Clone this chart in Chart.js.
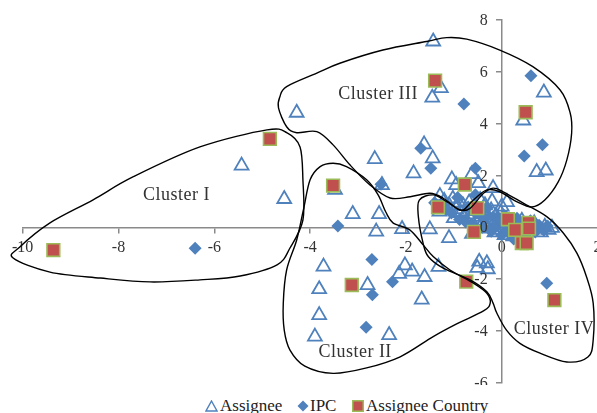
<!DOCTYPE html>
<html>
<head>
<meta charset="utf-8">
<script src="https://cdn.jsdelivr.net/npm/chart.js@4.4.1/dist/chart.umd.min.js"></script>
<style>
  html, body { margin: 0; padding: 0; background: #fff; overflow: hidden; }
  #wrap { position: relative; width: 597px; height: 413px; overflow: hidden; }
  #c { position: absolute; left: 0; top: 0; }
  #legend { position: absolute; left: 0; top: 385px; width: 597px; height: 28px; background: #fff;
            font-family: "Liberation Serif", "Times New Roman", serif; font-size: 17px; color: #222; }
  #legend .item { position: absolute; top: 11px; height: 20px; line-height: 20px; white-space: nowrap;
                  display: flex; align-items: center; }
  .mk { display: block; margin-right: 2px; flex: none; }
</style>
</head>
<body>
<div id="wrap">
  <canvas id="c" width="620" height="413"></canvas>
  <div id="legend"></div>
</div>
<script>
// series names and tick values
const seriesNames = ['Assignee', 'IPC', 'Assignee Country'];
const xTicks = [-10, -8, -6, -4, -2, 0, 2];
const yTicks = [-6, -4, -2, 0, 2, 4, 6, 8];

// Assignee (open triangles)
const assignee = [
  [-4.28, 4.42], [-5.43, 2.38], [-4.54, 1.09], [-3.48, 1.44], [-1.43, 7.17], [-1.27, 5.37],
  [-1.45, 5.00], [0.88, 5.20], [0.45, 4.12], [0.73, 2.13], [0.92, 2.19], [-2.65, 2.63],
  [-2.50, 1.63], [-1.84, 2.08], [-1.62, 3.20], [-1.44, 2.66], [-1.04, 1.85], [-0.95, 1.63],
  [-0.62, 2.05], [-0.18, 1.51], [-0.49, 1.70], [-1.29, 1.20], [-1.50, -0.08], [-2.08, -0.07],
  [-1.10, -0.42], [-3.11, 0.51], [-2.56, 0.51], [-2.62, -0.17], [0.11, 0.97], [-3.72, -1.52],
  [-2.02, -1.47], [-2.14, -1.80], [-1.87, -1.71], [-1.61, -1.92], [-1.32, -1.53], [-2.80, -2.23],
  [-3.81, -2.39], [-1.67, -2.79], [-3.81, -3.39], [-3.90, -4.22], [-2.35, -4.16], [-0.47, -1.33],
  [-0.31, -1.39], [-0.51, -1.57], [-0.29, -1.62],
  // dense group near the origin
  [-1.20, 1.02], [-1.10, 0.85], [-1.02, 1.10], [-0.95, 0.70], [-0.90, 0.95], [-0.85, 0.55],
  [-0.80, 0.82], [-0.78, 0.40], [-0.72, 0.62], [-0.68, 0.95], [-0.65, 0.30], [-0.60, 0.50],
  [-0.55, 0.78], [-0.52, 0.15], [-0.48, 0.40], [-0.45, 1.05], [-0.42, 0.62], [-0.38, 0.20],
  [-0.35, 0.85], [-0.32, 0.45], [-0.28, -0.05], [-0.25, 0.30], [-0.22, 0.65], [-0.18, 0.10],
  [-0.15, -0.20], [-0.12, 0.45], [-0.08, 0.25], [-0.05, -0.10], [-0.02, 0.55], [0.03, 0.05],
  [0.06, -0.30], [0.10, 0.30], [0.15, -0.05], [0.20, 0.20], [0.24, -0.35], [0.30, 0.08],
  [0.36, -0.15], [0.42, 0.25], [0.48, -0.28], [0.55, 0.05], [0.62, -0.12], [0.68, 0.15],
  [0.75, -0.05], [0.82, -0.20], [0.90, 0.02], [0.98, -0.10], [1.05, -0.02], [-1.30, 0.60],
  [-1.00, 0.35], [-0.62, -0.25], [0.00, 0.80], [-0.20, 1.00]
];

// IPC (filled diamonds)
const ipc = [
  [-6.40, -0.81], [-0.79, 4.76], [0.61, 5.85], [0.85, 3.18], [0.47, 2.75], [-2.52, 1.66],
  [-1.69, 3.05], [-1.48, 2.28], [-0.55, 2.28], [-3.42, 0.05], [-2.71, -1.24], [-2.28, -2.10],
  [-2.70, -2.61], [-2.83, -3.86], [0.94, -2.16],
  [-1.15, 0.70], [-1.05, 0.55], [-0.92, 1.15], [-0.88, 0.30], [-0.75, 0.20], [-0.70, 0.78],
  [-0.62, 0.10], [-0.50, 0.55], [-0.40, 0.00], [-0.36, 0.35], [-0.30, 0.75], [-0.22, -0.15],
  [-0.18, 0.40], [-0.10, 0.05], [-0.05, 0.30], [0.00, -0.30], [0.05, 0.45], [0.12, -0.18],
  [0.18, 0.10], [0.25, -0.45], [0.32, 0.35], [0.38, -0.05], [0.45, 0.12], [0.50, -0.35],
  [0.60, 0.25], [0.70, -0.18], [0.78, 0.08], [0.88, -0.12], [0.95, 0.05], [-1.40, 0.95],
  [-0.55, 1.25]
];

// Assignee Country (red squares)
const assigneeCountry = [
  [-9.36, -0.88], [-4.84, 3.41], [-3.52, 1.61], [-1.39, 5.66], [0.50, 4.44], [-0.77, 1.65],
  [-1.33, 0.77], [-0.51, 0.74], [-0.58, -0.18], [-3.13, -2.23], [-0.74, -2.10], [1.10, -2.81],
  [0.13, 0.31], [0.28, -0.10], [0.56, 0.17], [0.57, -0.05], [0.42, -0.61], [0.52, -0.61]
];

// cluster outlines (data coordinates, closed smooth curves)
const clusterI = [
  [-10.20, -1.19], [-10.06, -0.76], [-9.43, 0.17], [-8.53, 1.06], [-7.70, 1.94], [-6.30, 3.10],
  [-4.90, 3.76], [-4.48, 3.64], [-4.21, 3.10], [-4.15, 1.83], [-4.15, 0.28], [-4.42, -0.80],
  [-4.69, -1.45], [-5.46, -1.88], [-6.30, -2.03], [-7.34, -2.11], [-8.38, -1.96], [-9.43, -1.73]
];
const clusterII = [
  [-3.52, 2.47], [-3.24, 2.34], [-2.82, 1.83], [-2.58, 1.25], [-2.42, 0.59], [-2.27, 0.17],
  [-1.92, -0.10], [-1.64, -0.68], [-1.43, -1.13], [-1.08, -1.65], [-0.59, -2.16], [-0.31, -2.55],
  [-0.24, -2.93], [-0.38, -3.23], [-0.94, -3.73], [-1.43, -4.22], [-2.12, -5.00], [-2.82, -5.43],
  [-3.52, -5.64], [-4.11, -5.36], [-4.42, -4.74], [-4.54, -3.97], [-4.56, -2.93], [-4.49, -1.65],
  [-4.28, -0.49], [-4.14, 0.67], [-4.00, 1.83], [-3.79, 2.34]
];
const clusterIII = [
  [-4.66, 4.61], [-4.63, 5.04], [-4.49, 5.43], [-3.86, 5.95], [-3.38, 6.33], [-2.48, 6.84],
  [-1.57, 7.17], [-1.15, 7.32], [-0.73, 7.26], [-0.04, 6.84], [0.65, 6.20], [1.22, 5.30],
  [1.43, 4.41], [1.46, 3.63], [1.36, 2.60], [1.18, 1.75], [0.90, 1.05], [0.63, 0.78],
  [0.31, 0.99], [-0.04, 1.37], [-0.31, 1.44], [-0.59, 1.05], [-0.80, 0.67], [-0.94, 0.73],
  [-1.22, 1.12], [-1.50, 1.31], [-1.91, 1.18], [-2.33, 1.13], [-2.75, 1.63], [-3.17, 2.41],
  [-3.52, 3.18], [-3.86, 3.69], [-4.28, 3.65], [-4.49, 3.88]
];
const clusterIV = [
  [-1.72, 1.05], [-1.43, 1.25], [-1.15, 0.99], [-0.87, 0.67], [-0.66, 0.73], [-0.38, 1.31],
  [-0.18, 1.51], [0.03, 1.37], [0.45, 0.93], [0.94, 0.41], [1.29, -0.23], [1.57, -1.00],
  [1.77, -1.91], [1.91, -2.93], [1.91, -4.35], [1.80, -5.01], [1.36, -5.20], [0.80, -4.86],
  [0.38, -4.48], [0.10, -3.97], [-0.10, -3.32], [-0.18, -2.93], [-0.31, -2.49], [-0.66, -2.03],
  [-1.22, -1.58], [-1.53, -1.14], [-1.64, -0.62], [-1.74, 0.41]
];
const clusterNames = ['Cluster I', 'Cluster II', 'Cluster III', 'Cluster IV'];
const clusterLabelAt = [[-6.79, 1.22], [-3.06, -4.81], [-2.58, 5.14], [1.09, -3.93]];

const serif = '"Liberation Serif", "Times New Roman", serif';
const toPts = arr => arr.map(([x, y]) => ({ x, y }));

const clusterPlugin = {
  id: 'clusters',
  afterDatasetsDraw(chart) {
    const { ctx, scales: { x, y } } = chart;
    ctx.save();
    ctx.strokeStyle = '#000';
    ctx.lineWidth = 1.4;
    [clusterI, clusterII, clusterIII, clusterIV].forEach(shape => {
      const p = shape.map(([a, b]) => [x.getPixelForValue(a), y.getPixelForValue(b)]);
      const n = p.length;
      ctx.beginPath();
      ctx.moveTo(p[0][0], p[0][1]);
      for (let i = 0; i < n; i++) {
        const p0 = p[(i - 1 + n) % n], p1 = p[i], p2 = p[(i + 1) % n], p3 = p[(i + 2) % n];
        ctx.bezierCurveTo(
          p1[0] + (p2[0] - p0[0]) / 6, p1[1] + (p2[1] - p0[1]) / 6,
          p2[0] - (p3[0] - p1[0]) / 6, p2[1] - (p3[1] - p1[1]) / 6,
          p2[0], p2[1]);
      }
      ctx.closePath();
      ctx.stroke();
    });

    // y tick labels, left of the crossing axis
    ctx.fillStyle = '#333';
    ctx.font = '16px ' + serif;
    ctx.textAlign = 'right';
    ctx.textBaseline = 'middle';
    const axisX = x.getPixelForValue(0);
    yTicks.forEach(v => ctx.fillText(String(v), axisX - 14, y.getPixelForValue(v) + 1));

    ctx.fillStyle = '#333';
    ctx.font = '18px ' + serif;
    ctx.letterSpacing = '0.5px';
    ctx.textAlign = 'center';
    clusterNames.forEach((name, i) => {
      const [a, b] = clusterLabelAt[i];
      ctx.fillText(name, x.getPixelForValue(a), y.getPixelForValue(b));
    });
    ctx.restore();
  }
};

const axisColor = '#8a8a8a';

new Chart(document.getElementById('c').getContext('2d'), {
  type: 'scatter',
  data: {
    datasets: [
      {
        label: seriesNames[0],
        data: toPts(assignee),
        pointStyle: 'triangle',
        pointRadius: 8,
        borderColor: '#4F81BD',
        backgroundColor: 'rgba(255,255,255,0)',
        borderWidth: 1.8,
        order: 3
      },
      {
        label: seriesNames[1],
        data: toPts(ipc),
        pointStyle: 'rectRot',
        pointRadius: 6.5,
        borderColor: '#4F81BD',
        backgroundColor: '#4F81BD',
        borderWidth: 0,
        order: 2
      },
      {
        label: seriesNames[2],
        data: toPts(assigneeCountry),
        pointStyle: 'rect',
        pointRadius: 9,
        borderColor: '#9BBB59',
        backgroundColor: '#C0504D',
        borderWidth: 1.6,
        order: 1
      }
    ]
  },
  options: {
    responsive: false,
    animation: false,
    events: [],
    layout: { padding: { left: 22.7, right: 22.5, top: 20, bottom: 30.3 } },
    plugins: { legend: { display: false }, tooltip: { enabled: false } },
    scales: {
      x: {
        type: 'linear',
        min: -10, max: 2,
        position: { y: 0 },
        afterFit: s => { s.height = 0; },
        afterBuildTicks: s => { s.ticks = xTicks.map(v => ({ value: v })); },
        grid: { drawOnChartArea: false, drawTicks: true, tickLength: 5, color: axisColor, lineWidth: 1.5 },
        border: { display: true, color: axisColor, width: 1.5 },
        ticks: { color: '#333', font: { family: serif, size: 16 }, padding: 6, maxRotation: 0, autoSkip: false }
      },
      y: {
        type: 'linear',
        min: -6, max: 8,
        position: { x: 0 },
        afterFit: s => { s.width = 0; },
        afterBuildTicks: s => { s.ticks = yTicks.map(v => ({ value: v })); },
        grid: { drawOnChartArea: false, drawTicks: true, tickLength: 5, color: axisColor, lineWidth: 1.5 },
        border: { display: true, color: axisColor, width: 1.5 },
        ticks: { display: false, autoSkip: false }
      }
    }
  },
  plugins: [clusterPlugin]
});

// legend built from the series names
const legendMarks = [
  '<svg class="mk" width="13" height="12" viewBox="0 0 13 12"><polygon points="6.5,1 12,11 1,11" fill="none" stroke="#4F81BD" stroke-width="1.4"/></svg>',
  '<svg class="mk" width="12" height="12" viewBox="0 0 12 12" style="margin-right:1px"><polygon points="6,0.5 11.5,6 6,11.5 0.5,6" fill="#4F81BD"/></svg>',
  '<svg class="mk" width="12" height="12" viewBox="0 0 12 12"><rect x="0.75" y="0.75" width="10.5" height="10.5" fill="#C0504D" stroke="#9BBB59" stroke-width="1.5"/></svg>'
];
const legendLeft = [205, 297, 352];
document.getElementById('legend').innerHTML = seriesNames
  .map((name, i) => `<div class="item" style="left:${legendLeft[i]}px">${legendMarks[i]}<span>${name}</span></div>`)
  .join('');
</script>
</body>
</html>
